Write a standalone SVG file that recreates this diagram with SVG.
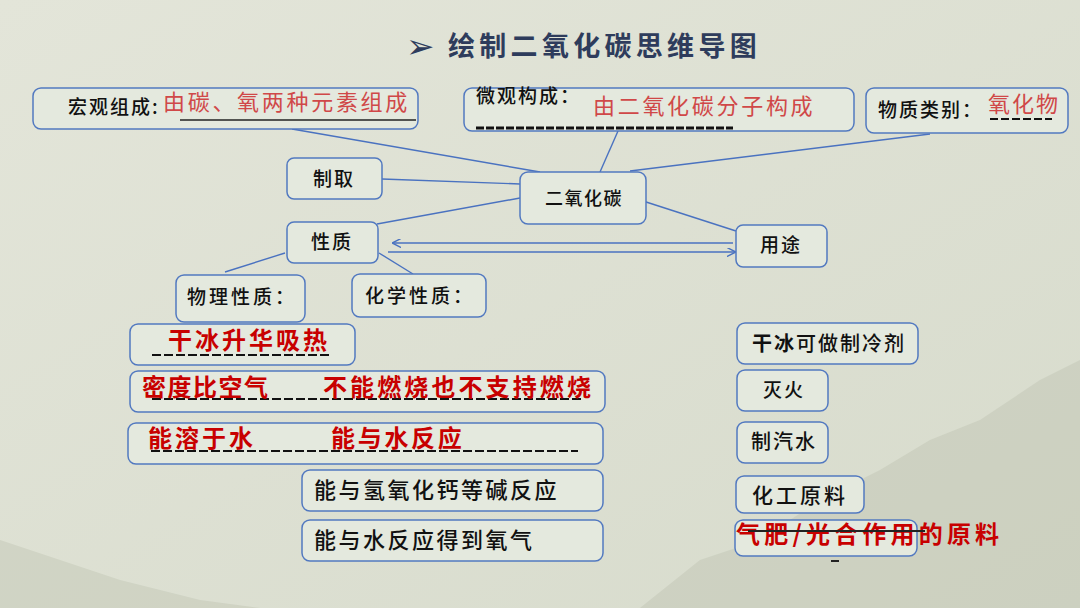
<svg xmlns="http://www.w3.org/2000/svg" width="1080" height="608" viewBox="0 0 1080 608">
<defs>
<linearGradient id="bg" x1="0" y1="0" x2="1" y2="1">
<stop offset="0" stop-color="#e3e5d9"/>
<stop offset="1" stop-color="#d7dbcc"/>
</linearGradient>
<marker id="ah" viewBox="0 0 10 10" refX="9" refY="5" markerWidth="9" markerHeight="9" orient="auto-start-reverse" markerUnits="userSpaceOnUse">
<path d="M0,0 L10,5 L0,10" fill="none" stroke="#4a72c0" stroke-width="1.6"/>
</marker>
<style>
.box{fill:#e4e9de;stroke:#5279c0;stroke-width:1.5}
.lbl{font-family:"Noto Sans CJK SC","Noto Sans",sans-serif;font-size:19px;fill:#111;letter-spacing:2px;font-weight:500}
.big{font-family:"Noto Sans CJK SC","Noto Sans",sans-serif;font-size:22px;fill:#111;letter-spacing:2.5px;font-weight:500}
.ans{font-family:"Noto Sans CJK SC","Noto Sans",sans-serif;font-size:22px;fill:#d04848;letter-spacing:2.7px}
.red{font-family:"Noto Sans CJK SC","Noto Sans",sans-serif;font-size:24px;fill:#c80000;font-weight:bold;letter-spacing:1.5px}
.conn{stroke:#4a72c0;stroke-width:1.4;fill:none}
.dash{stroke:#111;stroke-width:2;stroke-dasharray:9 3;fill:none}
</style>
</defs>
<rect width="1080" height="608" fill="url(#bg)"/>
<g opacity="0.25" fill="#aab09c">
<path d="M640,608 L700,560 L760,540 L820,500 L880,470 L930,440 L980,420 L1040,380 L1080,360 L1080,608 Z"/>
<path d="M0,608 L0,540 L60,560 L120,580 L200,600 L260,608 Z"/>
</g>

<g id="title">
<text x="406" y="58" font-family="DejaVu Sans,sans-serif" font-size="34" font-weight="bold" fill="#2e3c5c">➢</text>
<text x="448" y="56" font-family="Noto Sans CJK SC,sans-serif" font-size="27" font-weight="bold" fill="#2e3c5c" letter-spacing="4.3">绘制二氧化碳思维导图</text>
</g>

<g id="connectors">
<line class="conn" x1="292" y1="129" x2="540" y2="172"/>
<line class="conn" x1="600" y1="172" x2="618" y2="131"/>
<line class="conn" x1="630" y1="171" x2="930" y2="134"/>
<line class="conn" x1="382" y1="179" x2="520" y2="184"/>
<line class="conn" x1="377" y1="224" x2="520" y2="198"/>
<line class="conn" x1="643" y1="201" x2="736" y2="231"/>
<line class="conn" x1="393" y1="243" x2="733" y2="243" marker-start="url(#ah)"/>
<line class="conn" x1="388" y1="252" x2="735" y2="252" marker-end="url(#ah)"/>
<line class="conn" x1="285" y1="253" x2="225" y2="272"/>
<line class="conn" x1="379" y1="253" x2="413" y2="274"/>
</g>

<g id="n-macro">
<rect class="box" x="33" y="88" width="385" height="41" rx="8"/>
<text class="lbl" x="68" y="114">宏观组成:</text>
<line x1="180" y1="120" x2="416" y2="120" stroke="#222" stroke-width="1.5"/>
<text class="ans" x="163" y="110">由碳、氧两种元素组成</text>
</g>

<g id="n-micro">
<rect class="box" x="464" y="88" width="390" height="43" rx="8"/>
<text class="lbl" x="476" y="103">微观构成：</text>
<line class="dash" x1="476" y1="128" x2="733" y2="128" style="stroke-width:3;stroke-dasharray:8 2"/>
<text class="ans" x="593" y="114">由二氧化碳分子构成</text>
</g>

<g id="n-class">
<rect class="box" x="866" y="88" width="202" height="45" rx="8"/>
<text class="lbl" x="878" y="117">物质类别：</text>
<line class="dash" x1="990" y1="119" x2="1052" y2="119" style="stroke-dasharray:8 3"/>
<text class="ans" x="988" y="112" style="letter-spacing:2px">氧化物</text>
</g>

<g id="n-prep">
<rect class="box" x="287" y="158" width="95" height="41" rx="7"/>
<text class="lbl" x="313" y="186">制取</text>
</g>

<g id="n-co2">
<rect class="box" x="520" y="172" width="126" height="52" rx="8"/>
<text class="lbl" x="545" y="205" style="font-size:18px;letter-spacing:1.5px">二氧化碳</text>
</g>

<g id="n-prop">
<rect class="box" x="287" y="222" width="91" height="41" rx="7"/>
<text class="lbl" x="311" y="249">性质</text>
</g>

<g id="n-use">
<rect class="box" x="736" y="225" width="91" height="42" rx="7"/>
<text class="lbl" x="760" y="252">用途</text>
</g>

<g id="n-phys">
<rect class="box" x="176" y="275" width="129" height="47" rx="8"/>
<text class="lbl" x="187" y="304" style="letter-spacing:3px">物理性质：</text>
</g>

<g id="n-chem">
<rect class="box" x="352" y="274" width="134" height="43" rx="8"/>
<text class="lbl" x="365" y="303" style="letter-spacing:3px">化学性质：</text>
</g>

<g id="n-p1">
<rect class="box" x="130" y="324" width="225" height="41" rx="8"/>
<line class="dash" x1="152" y1="355" x2="330" y2="355"/>
<text class="red" x="168" y="349" style="letter-spacing:3px">干冰升华吸热</text>
</g>

<g id="n-p2">
<rect class="box" x="130" y="371" width="475" height="41" rx="8"/>
<line class="dash" x1="152" y1="399" x2="583" y2="399"/>
<text class="red" x="142" y="396">密度比空气</text>
<text class="red" x="323" y="396" style="letter-spacing:3.1px">不能燃烧也不支持燃烧</text>
</g>

<g id="n-p3">
<rect class="box" x="128" y="423" width="475" height="41" rx="8"/>
<line class="dash" x1="151" y1="451" x2="578" y2="451"/>
<text class="red" x="148" y="447" style="letter-spacing:3px">能溶于水</text>
<text class="red" x="331" y="447" style="letter-spacing:2.7px">能与水反应</text>
</g>

<g id="n-c1">
<rect class="box" x="302" y="470" width="301" height="41" rx="8"/>
<text class="big" x="314" y="498">能与氢氧化钙等碱反应</text>
</g>

<g id="n-c2">
<rect class="box" x="302" y="520" width="301" height="41" rx="8"/>
<text class="big" x="314" y="548">能与水反应得到氧气</text>
</g>

<g id="n-u1">
<rect class="box" x="737" y="323" width="181" height="41" rx="8"/>
<text class="lbl" x="752" y="351" style="font-size:20px"><tspan style="font-weight:bold">干冰</tspan>可做制冷剂</text>
</g>

<g id="n-u2">
<rect class="box" x="737" y="370" width="91" height="41" rx="8"/>
<text class="lbl" x="763" y="397">灭火</text>
</g>

<g id="n-u3">
<rect class="box" x="737" y="422" width="91" height="41" rx="8"/>
<text class="lbl" x="751" y="449" style="font-size:20px">制汽水</text>
</g>

<g id="n-u4">
<rect class="box" x="736" y="476" width="128" height="37" rx="8"/>
<text class="big" x="752" y="503" style="font-size:21px;letter-spacing:3px">化工原料</text>
</g>

<g id="n-u5">
<rect class="box" x="735" y="520" width="182" height="36" rx="8"/>
<text class="red" x="736" y="543" style="letter-spacing:4.2px">气肥/光合作用的原料</text>
<line x1="748" y1="531" x2="925" y2="531" stroke="#222" stroke-width="2"/>
<line x1="831" y1="561" x2="839" y2="561" stroke="#222" stroke-width="2"/>
</g>
</svg>
